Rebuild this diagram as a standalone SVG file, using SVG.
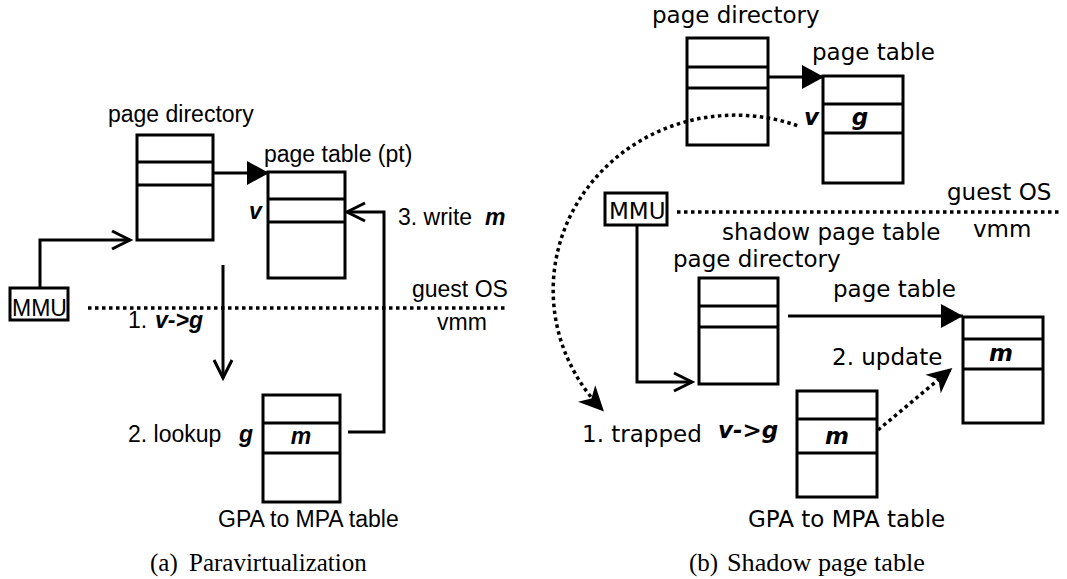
<svg xmlns="http://www.w3.org/2000/svg" width="1067" height="579" viewBox="0 0 1067 579">
<defs>
<style>
.box{fill:#fff;stroke:#000;stroke-width:3}
.dv{stroke:#000;stroke-width:3}
.ln{fill:none;stroke:#000;stroke-width:3}
.dot{fill:none;stroke:#000;stroke-width:3.5;stroke-dasharray:3.5 3.5}
.a{font-family:"Liberation Sans",Arial,sans-serif;font-size:23px;fill:#000}
.d{font-family:"DejaVu Sans",sans-serif;font-size:23px;fill:#000}
.bi{font-weight:bold;font-style:italic}
.cap{font-family:"Liberation Serif","Times New Roman",serif;font-size:25px;fill:#000}
</style>
<marker id="open" viewBox="-24 -14 28 28" refX="0" refY="0" markerWidth="28" markerHeight="28" markerUnits="userSpaceOnUse" orient="auto" overflow="visible">
<path d="M-18,-9 L0,0 L-18,9" fill="none" stroke="#000" stroke-width="3"/>
</marker>
<marker id="tri" viewBox="-24 -14 28 28" refX="0" refY="0" markerWidth="28" markerHeight="28" markerUnits="userSpaceOnUse" orient="auto" overflow="visible">
<path d="M-22,-12 L0,0 L-22,12 Z" fill="#000"/>
</marker>
<marker id="barb" viewBox="-28 -16 32 32" refX="0" refY="0" markerWidth="32" markerHeight="32" markerUnits="userSpaceOnUse" orient="auto" overflow="visible">
<path d="M3,0 L-22,-12 L-15,0 L-22,12 Z" fill="#000"/>
</marker>
</defs>
<rect width="1067" height="579" fill="#fff"/>

<!-- (a) Paravirtualization -->
<g id="pv-pagedir">
<text class="a" x="108" y="122">page directory</text>
<rect class="box" x="137" y="135" width="76" height="105"/>
<line class="dv" x1="137" y1="162" x2="213" y2="162"/>
<line class="dv" x1="137" y1="185" x2="213" y2="185"/>
</g>
<g id="pv-pagetable">
<text class="a" x="264" y="162">page table (pt)</text>
<rect class="box" x="268" y="172" width="77" height="106"/>
<line class="dv" x1="268" y1="199" x2="345" y2="199"/>
<line class="dv" x1="268" y1="222" x2="345" y2="222"/>
<text class="a bi" x="249" y="219">v</text>
</g>
<g id="pv-mmu">
<rect class="box" x="10" y="288" width="58" height="32"/>
<text class="a" x="12" y="316">MMU</text>
</g>
<g id="pv-gpa">
<rect class="box" x="263" y="395" width="77" height="107"/>
<line class="dv" x1="263" y1="423" x2="340" y2="423"/>
<line class="dv" x1="263" y1="453" x2="340" y2="453"/>
<text class="a bi" x="301" y="444" text-anchor="middle">m</text>
<text class="a" x="218" y="527">GPA to MPA table</text>
</g>
<g id="pv-labels">
<text class="a" x="412" y="297">guest OS</text>
<text class="a" x="437" y="330">vmm</text>
<text class="a" x="128" y="328">1.</text>
<text class="a bi" x="155" y="328">v-&gt;g</text>
<text class="a" x="128" y="442">2. lookup</text>
<text class="a bi" x="239" y="442">g</text>
<text class="a" x="398" y="225">3. write</text>
<text class="a bi" x="485" y="225">m</text>
<text class="cap" x="150" y="571">(a)</text>
<text class="cap" x="189" y="571">Paravirtualization</text>
</g>
<g id="pv-connectors">
<path class="ln" d="M213,173 H269" marker-end="url(#tri)"/>
<path class="ln" d="M40,288 V240 H130" marker-end="url(#open)"/>
<path class="ln" d="M223,265 V378" marker-end="url(#open)"/>
<path class="ln" d="M348,432 H384 V212 H347" marker-end="url(#open)"/>
<path class="dot" d="M88,308 H508"/>
</g>

<!-- (b) Shadow page table -->
<g id="sp-guest-pagedir">
<text class="d" x="652" y="23">page directory</text>
<rect class="box" x="687" y="38" width="81" height="107"/>
<line class="dv" x1="687" y1="67" x2="768" y2="67"/>
<line class="dv" x1="687" y1="88" x2="768" y2="88"/>
</g>
<g id="sp-guest-pagetable">
<text class="d" x="812" y="60">page table</text>
<rect class="box" x="823" y="76" width="80" height="107"/>
<line class="dv" x1="823" y1="104" x2="903" y2="104"/>
<line class="dv" x1="823" y1="133" x2="903" y2="133"/>
<text class="d bi" x="804" y="125">v</text>
<text class="d bi" x="860" y="125" text-anchor="middle">g</text>
</g>
<g id="sp-mmu">
<rect class="box" x="605" y="193" width="62" height="32"/>
<text class="d" x="609" y="219">MMU</text>
</g>
<g id="sp-shadow-pagedir">
<text class="d" x="722" y="240">shadow page table</text>
<text class="d" x="673" y="267">page directory</text>
<rect class="box" x="699" y="278" width="79" height="106"/>
<line class="dv" x1="699" y1="306" x2="778" y2="306"/>
<line class="dv" x1="699" y1="327" x2="778" y2="327"/>
</g>
<g id="sp-shadow-pagetable">
<text class="d" x="833" y="297">page table</text>
<rect class="box" x="963" y="317" width="80" height="106"/>
<line class="dv" x1="963" y1="339" x2="1043" y2="339"/>
<line class="dv" x1="963" y1="369" x2="1043" y2="369"/>
<text class="d bi" x="1001" y="361" text-anchor="middle">m</text>
</g>
<g id="sp-gpa">
<rect class="box" x="797" y="391" width="80" height="106"/>
<line class="dv" x1="797" y1="419" x2="877" y2="419"/>
<line class="dv" x1="797" y1="453" x2="877" y2="453"/>
<text class="d bi" x="837" y="444" text-anchor="middle">m</text>
<text class="d" x="748" y="527">GPA to MPA table</text>
</g>
<g id="sp-labels">
<text class="d" x="947" y="200">guest OS</text>
<text class="d" x="973" y="237">vmm</text>
<text class="d" x="832" y="365">2. update</text>
<text class="d" x="582" y="442">1. trapped</text>
<text class="d bi" x="718" y="438">v-&gt;g</text>
<text class="cap" x="689" y="571">(b)</text>
<text class="cap" x="727" y="571" textLength="198" lengthAdjust="spacingAndGlyphs">Shadow page table</text>
</g>
<g id="sp-connectors">
<path class="ln" d="M768,77 H824" marker-end="url(#tri)"/>
<path class="ln" d="M788,316 H963" marker-end="url(#tri)"/>
<path class="ln" d="M637,225 V382 H692" marker-end="url(#open)"/>
<path class="dot" d="M677,212 H1060"/>
<path class="dot" d="M797.2,125.6 A182 175 0 0 0 601.9,409.3" marker-end="url(#barb)"/>
<path class="dot" d="M878,430 L950,370" marker-end="url(#barb)"/>
</g>
</svg>
